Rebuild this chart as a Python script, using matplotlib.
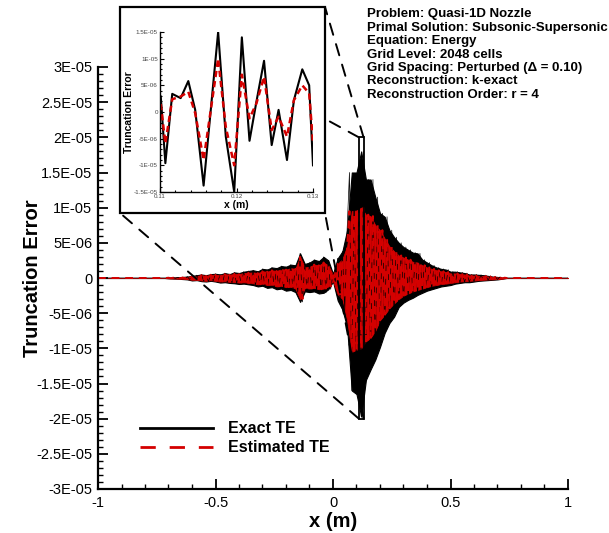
import numpy as np
import matplotlib
matplotlib.use('Agg')
import matplotlib.pyplot as plt
from matplotlib.patches import Rectangle, ConnectionPatch

plt.rcParams['font.family'] = ['Liberation Sans', 'DejaVu Sans']

# === Main plot: band envelopes read every 0.02 m (units of 1E-06) ===
x_env = np.round(np.linspace(-1.0, 1.0, 101), 2)

exact_upper = [
    0, 0, 0, 0, 0, 0, 0, 0, 0, 0, 0, 0, 0, 0, 0,     # -1.00 .. -0.72
    0.05, 0.08, 0.1, 0.15, 0.2,                      # -0.70 .. -0.62
    0.3, 0.4, 0.5, 0.4, 0.55,                        # -0.60 .. -0.52
    0.6, 0.5, 0.7, 0.55, 0.8,                        # -0.50 .. -0.42
    0.7, 0.9, 1.0, 1.1, 0.95,                        # -0.40 .. -0.32
    1.3, 1.2, 1.5, 1.4, 1.7,                         # -0.30 .. -0.22
    1.6, 1.9, 1.8, 3.5, 2.0,                         # -0.20 .. -0.12
    2.2, 2.6, 2.4, 3.0, 2.5,                         # -0.10 .. -0.02
    0.6, 2.8, 3.8, 6.8, 15.0,                        #  0.00 ..  0.08
    15.0, 18.0, 14.0, 14.0, 11.5,                    #  0.10 ..  0.18
    9.2, 8.7, 6.8, 5.8, 5.0,                         #  0.20 ..  0.28
    4.4, 4.0, 3.6, 3.5, 2.6,                         #  0.30 ..  0.38
    2.2, 1.8, 1.5, 1.3, 1.2,                         #  0.40 ..  0.48
    0.9, 0.9, 0.8, 0.7, 0.5,                         #  0.50 ..  0.58
    0.5, 0.45, 0.4, 0.3, 0.2,                        #  0.60 ..  0.68
    0.15, 0.05,                                      #  0.70 ..  0.72
    0, 0, 0, 0, 0, 0, 0, 0, 0, 0, 0, 0, 0, 0,        #  0.74 ..  1.00
]
exact_lower = [
    0, 0, 0, 0, 0, 0, 0, 0, 0, 0, 0, 0, 0, 0, 0,
    -0.05, -0.08, -0.1, -0.15, -0.2,
    -0.35, -0.3, -0.45, -0.5, -0.4,
    -0.5, -0.65, -0.6, -0.7, -0.75,
    -0.85, -0.8, -0.9, -1.0, -1.2,
    -1.1, -1.4, -1.3, -1.6, -1.5,
    -1.8, -1.7, -2.0, -3.4, -1.9,
    -2.0, -1.9, -2.2, -2.1, -1.6,
    -0.5, -3.2, -4.5, -7.0, -16.0,
    -16.5, -19.7, -14.5, -13.0, -11.6,
    -9.8, -7.8, -6.4, -5.5, -4.1,
    -3.5, -3.1, -2.8, -2.4, -2.1,
    -1.8, -1.6, -1.4, -1.2, -1.1,
    -1.0, -0.8, -0.7, -0.6, -0.6,
    -0.5, -0.4, -0.35, -0.3, -0.25,
    -0.2, -0.1,
    0, 0, 0, 0, 0, 0, 0, 0, 0, 0, 0, 0, 0, 0,
]
estimated_upper = [
    0, 0, 0, 0, 0, 0, 0, 0, 0, 0, 0, 0, 0, 0, 0,
    0.04, 0.06, 0.08, 0.1, 0.15,
    0.25, 0.3, 0.4, 0.3, 0.45,
    0.45, 0.4, 0.55, 0.45, 0.6,
    0.55, 0.7, 0.75, 0.8, 0.7,
    0.95, 0.9, 1.1, 1.0, 1.25,
    1.2, 1.4, 1.3, 3.0, 1.5,
    1.6, 1.9, 1.8, 2.2, 1.8,
    0.4, 2.0, 2.7, 4.5, 9.5,
    9.6, 10.0, 9.0, 8.8, 7.5,
    6.8, 5.6, 4.5, 3.8, 3.2,
    2.9, 2.6, 2.3, 2.2, 1.8,
    1.5, 1.3, 1.1, 0.95, 0.85,
    0.65, 0.65, 0.55, 0.5, 0.35,
    0.35, 0.3, 0.28, 0.2, 0.15,
    0.1, 0.04,
    0, 0, 0, 0, 0, 0, 0, 0, 0, 0, 0, 0, 0, 0,
]
estimated_lower = [
    0, 0, 0, 0, 0, 0, 0, 0, 0, 0, 0, 0, 0, 0, 0,
    -0.04, -0.06, -0.08, -0.1, -0.15,
    -0.25, -0.25, -0.35, -0.4, -0.3,
    -0.4, -0.5, -0.45, -0.55, -0.55,
    -0.65, -0.6, -0.7, -0.75, -0.9,
    -0.8, -1.0, -0.95, -1.2, -1.1,
    -1.3, -1.25, -1.5, -3.0, -1.4,
    -1.5, -1.4, -1.6, -1.5, -1.2,
    -0.4, -2.3, -3.0, -6.0, -10.5,
    -10.2, -10.0, -9.0, -8.5, -7.5,
    -6.0, -5.2, -4.3, -3.6, -3.0,
    -2.5, -2.2, -1.9, -1.7, -1.5,
    -1.3, -1.1, -1.0, -0.85, -0.8,
    -0.7, -0.6, -0.5, -0.45, -0.4,
    -0.35, -0.3, -0.25, -0.2, -0.18,
    -0.15, -0.08,
    0, 0, 0, 0, 0, 0, 0, 0, 0, 0, 0, 0, 0, 0,
]

# === Main plot: signed samples every 0.01 m (units of 1E-06) ===
x_main = np.round(np.linspace(-1.0, 1.0, 201), 2)

exact_te = [
    0, 0, 0, 0, 0, 0, 0, 0, 0, 0,                                   # -1.00 .. -0.91
    0, 0, 0, 0, 0, 0, 0, 0, 0, 0,                                   # -0.90 .. -0.81
    0, 0, 0, 0, 0, 0, 0, 0, 0, 0,                                   # -0.80 .. -0.71
    0.05, -0.05, 0.05, -0.05, 0.1, -0.1, 0.1, -0.15, 0.2, -0.2,     # -0.70 .. -0.61
    0.3, -0.35, 0.4, -0.3, 0.5, -0.45, 0.4, -0.5, 0.55, -0.4,       # -0.60 .. -0.51
    0.6, -0.5, 0.5, -0.65, 0.7, -0.6, 0.55, -0.7, 0.8, -0.75,       # -0.50 .. -0.41
    0.7, -0.85, 0.9, -0.8, 1.0, -0.9, 1.1, -1.0, 0.95, -1.2,        # -0.40 .. -0.31
    1.3, -1.1, 1.2, -1.4, 1.5, -1.3, 1.4, -1.6, 1.7, -1.5,          # -0.30 .. -0.21
    1.6, -1.8, 1.9, -1.7, 1.8, -2.0, 3.5, -3.4, 2.0, -1.9,          # -0.20 .. -0.11
    2.2, -2.0, 2.6, -1.9, 2.4, -2.2, 3.0, -2.1, 2.5, -1.6,          # -0.10 .. -0.01
    0.6, -0.5, 2.8, -3.2, 3.8, -4.5, 6.8, 15.0, -16.0, 14.0,        #  0.00 ..  0.09
    -16.5, 15.0, -19.7, 18.0, -14.5, 14.0, -13.0, 14.0, -11.6, 11.5,  # 0.10 .. 0.19
    -9.8, 9.2, -7.8, 8.7, -6.4, 6.8, -5.5, 5.8, -4.1, 5.0,          #  0.20 ..  0.29
    -3.5, 4.4, -3.1, 4.0, -2.8, 3.6, -2.4, 3.5, -2.1, 2.6,          #  0.30 ..  0.39
    -1.8, 2.2, -1.6, 1.8, -1.4, 1.5, -1.2, 1.3, -1.1, 1.2,          #  0.40 ..  0.49
    -1.0, 0.9, -0.8, 0.9, -0.7, 0.8, -0.6, 0.7, -0.6, 0.5,          #  0.50 ..  0.59
    -0.5, 0.5, -0.4, 0.45, -0.35, 0.4, -0.3, 0.3, -0.25, 0.2,       #  0.60 ..  0.69
    -0.2, 0.15, -0.1, 0.05, 0, 0, 0, 0, 0, 0,                       #  0.70 ..  0.79
    0, 0, 0, 0, 0, 0, 0, 0, 0, 0,                                   #  0.80 ..  0.89
    0, 0, 0, 0, 0, 0, 0, 0, 0, 0, 0,                                #  0.90 ..  1.00
]

estimated_te = [
    0, 0, 0, 0, 0, 0, 0, 0, 0, 0,
    0, 0, 0, 0, 0, 0, 0, 0, 0, 0,
    0, 0, 0, 0, 0, 0, 0, 0, 0, 0,
    0.04, -0.04, 0.04, -0.04, 0.08, -0.08, 0.08, -0.1, 0.15, -0.15,
    0.25, -0.25, 0.3, -0.25, 0.4, -0.35, 0.3, -0.4, 0.45, -0.3,
    0.45, -0.4, 0.4, -0.5, 0.55, -0.45, 0.45, -0.55, 0.6, -0.55,
    0.55, -0.65, 0.7, -0.6, 0.75, -0.7, 0.8, -0.75, 0.7, -0.9,
    0.95, -0.8, 0.9, -1.0, 1.1, -0.95, 1.0, -1.2, 1.25, -1.1,
    1.2, -1.3, 1.4, -1.25, 1.3, -1.5, 3.0, -3.0, 1.5, -1.4,
    1.6, -1.5, 1.9, -1.4, 1.8, -1.6, 2.2, -1.5, 1.8, -1.2,
    0.4, -0.4, 2.0, -2.3, 2.7, -3.0, 4.5, 9.5, -10.5, 9.0,
    -10.2, 9.6, -10.0, 10.0, -9.0, 9.0, -8.5, 8.8, -7.5, 7.5,
    -6.0, 6.8, -5.2, 5.6, -4.3, 4.5, -3.6, 3.8, -3.0, 3.2,
    -2.5, 2.9, -2.2, 2.6, -1.9, 2.3, -1.7, 2.2, -1.5, 1.8,
    -1.3, 1.5, -1.1, 1.3, -1.0, 1.1, -0.85, 0.95, -0.8, 0.85,
    -0.7, 0.65, -0.6, 0.65, -0.5, 0.55, -0.45, 0.5, -0.4, 0.35,
    -0.35, 0.35, -0.3, 0.3, -0.25, 0.28, -0.2, 0.2, -0.18, 0.15,
    -0.15, 0.1, -0.08, 0.04, 0, 0, 0, 0, 0, 0,
    0, 0, 0, 0, 0, 0, 0, 0, 0, 0,
    0, 0, 0, 0, 0, 0, 0, 0, 0, 0, 0,
]

# === Inset data (zoom on 0.11 .. 0.13 m, units of 1E-06) ===
x_inset = [0.1101, 0.1107, 0.1116, 0.1127, 0.1137, 0.1146, 0.1157, 0.1176, 0.1186, 0.1197,
           0.1207, 0.1217, 0.1226, 0.1236, 0.1246, 0.1255, 0.1266, 0.1275, 0.1286, 0.1295, 0.1300]
exact_inset = [2.9, -9.6, 3.4, 2.6, 5.8, 0.4, -13.8, 15.0, -4.6, -15.0,
               14.0, -5.4, 1.9, 9.6, -6.2, 0.4, -9.0, 2.2, 8.0, 5.0, -10.0]
estimated_inset = [1.5, -5.9, 2.4, 2.9, 3.8, -0.2, -9.0, 10.0, -2.8, -10.0,
                   7.0, -1.2, 1.6, 6.6, -3.4, -0.9, -4.6, 2.2, 5.0, 3.5, -5.8]

# === Tick labels ===
main_yticks = [-3e-5, -2.5e-5, -2e-5, -1.5e-5, -1e-5, -5e-6, 0, 5e-6, 1e-5, 1.5e-5, 2e-5, 2.5e-5, 3e-5]
main_ylabels = ['-3E-05', '-2.5E-05', '-2E-05', '-1.5E-05', '-1E-05', '-5E-06', '0',
                '5E-06', '1E-05', '1.5E-05', '2E-05', '2.5E-05', '3E-05']
main_xticks = [-1, -0.5, 0, 0.5, 1]
main_xlabels = ['-1', '-0.5', '0', '0.5', '1']
inset_yticks = [-1.5e-5, -1e-5, -5e-6, 0, 5e-6, 1e-5, 1.5e-5]
inset_ylabels = ['-1.5E-05', '-1E-05', '-5E-06', '0', '5E-06', '1E-05', '1.5E-05']
inset_xticks = [0.11, 0.12, 0.13]
inset_xlabels = ['0.11', '0.12', '0.13']

info_lines = [
    "Problem: Quasi-1D Nozzle",
    "Primal Solution: Subsonic-Supersonic",
    "Equation: Energy",
    "Grid Level: 2048 cells",
    "Grid Spacing: Perturbed (\u0394 = 0.10)",
    "Reconstruction: k-exact",
    "Reconstruction Order: r = 4",
]

red = '#d40000'
W, H = 609, 533

fig = plt.figure(figsize=(W / 100, H / 100), dpi=100)

# === Main axes ===
ax = fig.add_axes([98 / W, 1 - 489 / H, 470 / W, 422 / H])
ax.fill_between(x_env, np.array(exact_lower) * 1e-6, np.array(exact_upper) * 1e-6,
                color='black', lw=0.8, zorder=1.0)
ax.fill_between(x_env, np.array(estimated_lower) * 1e-6, np.array(estimated_upper) * 1e-6,
                color=red, lw=0.6, zorder=1.2)
ax.plot(x_main, np.array(exact_te) * 1e-6, color='black', lw=0.5, label='Exact TE',
        zorder=1.4)
ax.plot(x_main, np.array(estimated_te) * 1e-6, color=red, lw=1.4,
        linestyle=(0, (4, 3)), label='Estimated TE', zorder=1.6)
ax.set_xlim(-1, 1)
ax.set_ylim(-3e-5, 3e-5)
ax.set_xticks(main_xticks)
ax.set_xticklabels(main_xlabels)
ax.set_yticks(main_yticks)
ax.set_yticklabels(main_ylabels)
ax.set_xticks(np.arange(-0.9, 1.0, 0.1), minor=True)
ax.set_yticks(np.arange(-29, 30, 1) * 1e-6, minor=True)
ax.tick_params(which='both', direction='in', labelsize=10.5, width=1.3)
ax.tick_params(which='major', length=7)
ax.tick_params(which='minor', length=3.5, width=1.0)
ax.tick_params(axis='x', pad=5)
ax.tick_params(axis='y', pad=4)
for s in ['top', 'right']:
    ax.spines[s].set_visible(False)
for s in ['left', 'bottom']:
    ax.spines[s].set_linewidth(1.6)
ax.set_xlabel('x (m)', fontsize=14.5, fontweight='bold')
ax.set_ylabel('Truncation Error', fontsize=14.5, fontweight='bold')
ax.xaxis.set_label_coords(0.5, -0.055)
ax.yaxis.set_label_coords(-0.12, 0.5)

leg = ax.legend(loc='center left', bbox_to_anchor=(0.089, 0.12), frameon=False,
                borderpad=0, borderaxespad=0, handlelength=4.6, handletextpad=0.9,
                labelspacing=0.25, prop={'size': 11.5, 'weight': 'bold'})
for ln in leg.get_lines():
    ln.set_linewidth(2.0)
leg.get_lines()[1].set_linestyle((0, (5.5, 5)))

# zoom window on main plot
ax.add_patch(Rectangle((0.11, -2e-5), 0.02, 4e-5, fill=False, edgecolor='black',
                       lw=1.3, zorder=6))

# === Inset frame (figure pixels) ===
fx0, fy0, fx1, fy1 = 120 / W, 1 - 213 / H, 325 / W, 1 - 7 / H
frame = Rectangle((fx0, fy0), fx1 - fx0, fy1 - fy0, transform=fig.transFigure,
                  facecolor='white', edgecolor='black', lw=1.6, zorder=4)
fig.add_artist(frame)

# dashed connectors between zoom window and inset frame corners
corners = [((0.11, 2e-5), (fx0, fy1)), ((0.13, 2e-5), (fx1, fy1)),
           ((0.11, -2e-5), (fx0, fy0)), ((0.13, -2e-5), (fx1, fy0))]
for pa, pb in corners:
    con = ConnectionPatch(xyA=pa, coordsA=ax.transData, xyB=pb, coordsB=fig.transFigure,
                          color='black', lw=1.4, linestyle=(0, (6, 5)), zorder=3)
    fig.add_artist(con)

# === Inset axes ===
axi = fig.add_axes([160 / W, 1 - 192 / H, 153 / W, 160 / H], zorder=5)
axi.patch.set_alpha(0)
axi.plot(x_inset, np.array(exact_inset) * 1e-6, color='black', lw=1.5)
axi.plot(x_inset, np.array(estimated_inset) * 1e-6, color=red, lw=1.8,
         linestyle=(0, (2.5, 1.6)))
axi.set_xlim(0.11, 0.13)
axi.set_ylim(-1.5e-5, 1.5e-5)
axi.set_xticks(inset_xticks)
axi.set_xticklabels(inset_xlabels)
axi.set_yticks(inset_yticks)
axi.set_yticklabels(inset_ylabels)
axi.set_xticks(np.arange(0.112, 0.1299, 0.002), minor=True)
axi.set_yticks(np.arange(-14, 15, 1) * 1e-6, minor=True)
axi.tick_params(which='both', direction='in', labelsize=4.5, labelcolor='#444444',
                pad=1.5, width=0.8)
axi.tick_params(which='major', length=3)
axi.tick_params(which='minor', length=1.5)
for s in ['top', 'right']:
    axi.spines[s].set_visible(False)
for s in ['left', 'bottom']:
    axi.spines[s].set_linewidth(1.0)
axi.set_xlabel('x (m)', fontsize=7.5, fontweight='bold', labelpad=0.5)
axi.set_ylabel('Truncation Error', fontsize=7.5, fontweight='bold')
axi.yaxis.set_label_coords(-0.17, 0.5)

# === Info text block ===
line_y = [14, 27.5, 41, 54.5, 68, 81.5, 95]
for txt, yc in zip(info_lines, line_y):
    fig.text(367 / W, 1 - yc / H, txt, fontsize=9.5, fontweight='bold',
             ha='left', va='center')

fig.savefig('out.png', dpi=100)
